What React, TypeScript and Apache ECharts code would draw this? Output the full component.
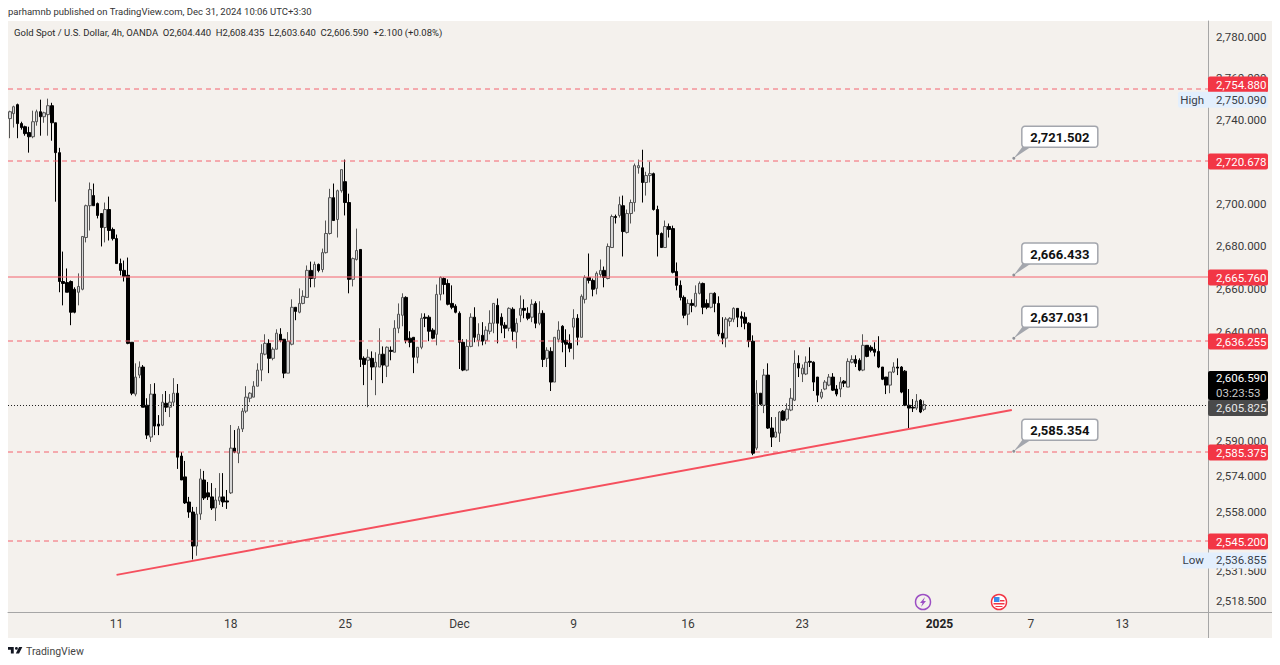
import React, { useEffect, useRef } from "react";
import * as echarts from "echarts";

const opens = [
  2740.5,2742.9,2747.2,2738.1,2736.6,2733.8,2731.8,2739.0,2743.8,2741.4,
  2742.4,2746.7,2738.5,2724.2,2663.4,2662.9,2663.4,2659.8,2658.4,2659.8,
  2684,2699.0,2703.8,2700.0,2695.3,2688.7,2697.2,2687.8,2683.5,2671.8,
  2668.6,2666.3,2635.2,2611.4,2620.1,2623.8,2606.3,2591.8,2611.4,2597.7,
  2597.2,2607.2,2605.4,2607.7,2611.8,2583.2,2573.8,2562.5,2558,2542.8,
  2557.1,2572.4,2566.6,2564.8,2559.8,2563,2564.8,2563,2566.6,2586.8,
  2584.5,2595.5,2603.6,2609.5,2610,2615,2622.4,2629.7,2634.7,2627.8,
  2632,2638.9,2636.6,2621,2634.3,2651.4,2649.1,2653.2,2656,2668.6,
  2664.8,2671.4,2669,2676.9,2685.9,2702.8,2692.5,2706.1,2710.4,2700.5,
  2664.4,2673.7,2678.4,2627.8,2626.9,2627.8,2623.8,2623.8,2629.7,2624.2,
  2631.5,2630.6,2641.7,2647.7,2656,2637.1,2637.5,2628.3,2632.9,2646.8,
  2646.8,2640.8,2638.9,2657.4,2664.8,2662.5,2653.2,2651.9,2648.6,2635.2,
  2622.4,2633.3,2646.8,2636.1,2638.4,2636.1,2640.3,2644,2652.3,2646.8,
  2643.1,2641.7,2650.5,2639.9,2647.7,2650.9,2648.6,2646.8,2653.2,2644,
  2648.6,2627.8,2631,2616.9,2636.6,2642.6,2636.1,2634.7,2642.2,2646.3,
  2637.5,2655.1,2665.3,2663.9,2660.2,2666.7,2668.6,2664.8,2679.3,2693.9,
  2694.4,2699,2686.4,2695.3,2700.5,2717,2717,2710,2713.3,2714.2,
  2697.2,2685.9,2679.3,2689.2,2688.2,2668.1,2661.6,2656,2648.2,2653.2,
  2651.9,2657.9,2662.5,2653.2,2651.4,2657.9,2653.2,2639.4,2637.1,2644.9,
  2645.9,2650.9,2647.2,2646.8,2644,2635.7,2586.8,2611.8,2606.3,2620.1,
  2595.9,2591.8,2593.6,2603.6,2600,2604.1,2608.6,2625.5,2620.6,2620.6,
  2626.4,2626,2619.2,2610,2613.7,2615.5,2619.2,2613.7,2613.7,2617.3,
  2614.6,2626,2627.3,2626.9,2622.4,2633.8,2632.9,2632,2631,2623.8,
  2619.2,2615.5,2621.5,2623.8,2623.8,2621.9,2606.3,2605.4,2605,2608.6,
  2604.44,
];
const closes = [
  2743.8,2746.2,2738.1,2736.2,2733.3,2731.8,2739.0,2743.8,2741.4,2743.3,
  2746.7,2738.5,2724.2,2663.4,2662.5,2658.4,2649.1,2649.1,2661.1,2684.5,
  2699.0,2706.6,2699.0,2694.4,2688.7,2697.2,2687.3,2683.5,2671.8,2668.6,
  2665.8,2634.7,2611.8,2619.2,2623.8,2605.4,2592.7,2611.4,2596.8,2596.8,
  2607.7,2605.4,2607.7,2611.8,2582.7,2572.4,2562.1,2558,2542.8,2557.1,
  2572.9,2564.3,2564.8,2559.8,2563.4,2564.8,2562.5,2562.5,2586.8,2585,
  2595.5,2603.6,2610,2611.8,2615,2622.4,2630.1,2634.7,2627.8,2632,
  2639.4,2636.1,2621,2635.7,2651.4,2649.5,2653.2,2656.5,2668.6,2664.8,
  2671.4,2668.6,2676.9,2685.9,2702.8,2692,2706.1,2716.1,2700.5,2664.4,
  2674.1,2677.9,2627.3,2625,2628.3,2623.8,2626,2629.7,2624.7,2632.9,
  2631,2641.7,2648.2,2656,2636.1,2635.2,2628.3,2632.9,2646.3,2646.3,
  2640.3,2637.1,2657.4,2665.3,2662,2652.8,2651.4,2649.1,2635.2,2622.4,
  2633.3,2646.8,2637.5,2638.9,2635.7,2640.8,2644,2653.2,2644,2643.1,
  2641.7,2650.9,2640.3,2644,2650.9,2650,2646.3,2652.8,2644,2648.6,
  2627.3,2631.5,2616.9,2637.5,2640.8,2635.2,2634.3,2632.4,2646.3,2637.5,
  2656.5,2665.3,2663.9,2659.8,2667.2,2668.6,2665.3,2679.8,2693.9,2693.4,
  2699.5,2686.8,2695.3,2700.5,2718,2718,2710,2713.3,2714.2,2697.2,
  2685.4,2679.3,2689.2,2687.8,2667.7,2661.6,2656,2647.7,2653.2,2652.3,
  2657.9,2662.5,2651.4,2651.4,2657.9,2653.2,2639,2637.1,2645.9,2646.3,
  2650.9,2646.8,2646.3,2644,2635.7,2584.5,2611.8,2606.8,2620.1,2595.9,
  2591.8,2594.1,2603.2,2599.5,2604.5,2609.5,2625.5,2623.3,2623.3,2626,
  2626,2616.9,2610.9,2612.3,2616.9,2619.2,2613.2,2611.4,2616.9,2616.4,
  2626.4,2627.3,2625.5,2622.4,2633.8,2628.7,2631.5,2630.6,2623.8,2618.2,
  2615.5,2621.5,2623.8,2623.3,2612.3,2606.3,2605,2605,2608.2,2603.2,
  2606.59,
];
const lows = [
  2731.1,2736.2,2731.1,2735.2,2732.3,2724.2,2731.1,2737.1,2732.3,2738.5,
  2732.3,2729.9,2700.9,2658.4,2652.3,2658.4,2643.1,2648.6,2652.3,2659.3,
  2681.7,2687.3,2699.0,2693,2679.8,2681.7,2682.6,2682.6,2671.8,2666.3,
  2663.4,2634.3,2610.9,2610.4,2618.7,2605.4,2590.9,2589.6,2592.7,2592.7,
  2596.8,2603.2,2600.9,2605.9,2577.4,2572.4,2561.6,2555.4,2536.855,2538.5,
  2554.5,2563.4,2563.4,2558.9,2554,2561.2,2560.3,2559.4,2566.1,2584.5,
  2580,2594.1,2602.7,2607.7,2610,2615,2617.3,2629.2,2621,2626.9,
  2632,2635.2,2618.7,2621,2633.8,2645.4,2648.6,2652.8,2656,2660.7,
  2660.7,2667.7,2667.7,2676.5,2685.4,2692,2684,2705.2,2694.4,2657.9,
  2661.1,2673.2,2623.8,2615.5,2605.4,2617.8,2610.9,2623.8,2616.4,2619.2,
  2626.9,2630.6,2639.4,2642.6,2634.7,2632.9,2621,2625.5,2632,2642.2,
  2635.7,2636.6,2633.8,2654.6,2657.4,2652.3,2650.5,2648.6,2622.9,2621.9,
  2621.9,2632.9,2635.2,2633.3,2633.8,2634.3,2638.9,2639.4,2634.7,2639.4,
  2637.1,2640.3,2636.1,2632.4,2644.5,2646.3,2645.4,2644.5,2641.7,2643.1,
  2623.8,2623.8,2612.8,2616.9,2635.2,2630.6,2623.8,2630.6,2627.3,2633.8,
  2637.5,2653.2,2662.5,2656.5,2657.4,2665.3,2660.7,2664.4,2679.3,2690.6,
  2693.4,2675.1,2685.9,2690.6,2696.2,2714.2,2700.5,2703.8,2710,2696.7,
  2675.1,2679.3,2679.3,2684,2667.2,2659.3,2654.6,2646.3,2643.1,2649.1,
  2651.4,2657.4,2648.2,2650.5,2650.9,2649.1,2638,2634.3,2632.9,2642.6,
  2644.5,2642.2,2642.2,2641.2,2632.9,2583.6,2585.9,2606.3,2602.7,2595.5,
  2587.3,2591.4,2589.6,2599.1,2599.1,2603.6,2608.2,2619.2,2616.9,2620.1,
  2623.8,2612.8,2607.7,2609.1,2613.2,2615,2612.8,2610.4,2610,2614.6,
  2614.6,2625.5,2623.8,2621.9,2621.9,2628.3,2630.6,2628.7,2623.3,2617.8,
  2611.4,2611.8,2621,2620.1,2611.8,2605.9,2595.9,2603.2,2604.1,2602.7,
  2603.64,
];
const highs = [
  2744.3,2746.7,2747.7,2739.0,2737.1,2736.6,2744.3,2744.8,2749.6,2743.8,
  2750.09,2748.1,2738.5,2726.5,2677.4,2669.5,2663.9,2660.7,2667.2,2684.5,
  2699.5,2710,2709.5,2700.5,2695.3,2700.5,2703.3,2688.7,2685.4,2674.1,
  2673.2,2674.6,2635.2,2625.5,2626.4,2624.7,2609.5,2616,2616.4,2601.8,
  2611.4,2612.8,2611.4,2618.7,2616,2585,2581,2564.8,2560.3,2560.3,
  2577.4,2576.5,2571.5,2571,2568.8,2575.5,2575.5,2567.9,2597.3,2595,
  2596.8,2605,2615,2612.3,2617.3,2625.5,2634.3,2638.9,2636.6,2632.9,
  2641.2,2641.7,2636.6,2639.9,2655.1,2651.4,2660.2,2659.3,2670.9,2672.7,
  2672.7,2671.8,2678.8,2692,2707,2709.5,2706.6,2716.1,2720.9,2704.7,
  2674.6,2688.2,2678.4,2628.7,2632,2631,2630.6,2641.7,2633.3,2633.3,
  2633.3,2645.4,2653.2,2657.9,2656.5,2640.3,2637.5,2632.9,2648.6,2648.6,
  2647.7,2641.7,2662,2665.8,2665.3,2664.4,2661.6,2652.8,2649.5,2636.6,
  2636.6,2648.6,2651.4,2644,2644.5,2642.6,2650,2653.2,2655.5,2648.6,
  2644.5,2651.4,2651.4,2646.3,2656.9,2655.1,2651.4,2655.1,2654.2,2654.2,
  2650,2632.9,2632.9,2637.5,2644.9,2643.1,2641.2,2638.9,2650.5,2648.2,
  2657.4,2666.3,2676.5,2664.8,2668.1,2673.7,2670.4,2681.2,2694.8,2694.8,
  2703.3,2703.8,2697.2,2701.9,2719,2720.9,2725.6,2715.1,2719.9,2714.7,
  2699,2686.4,2692,2690.6,2689.6,2672.3,2663.9,2656.9,2655.1,2655.1,
  2661.6,2663.4,2662.9,2655.1,2657.9,2658.4,2656.5,2646.8,2646.8,2646.8,
  2651.4,2650.9,2649.5,2649.1,2644.5,2638.4,2617.8,2611.8,2622.9,2625.5,
  2600.9,2600.9,2603.6,2604.1,2607.2,2614.1,2631.5,2629.2,2625,2628.7,
  2632.9,2626.4,2619.2,2613.7,2617.8,2620.6,2621,2615.5,2619.2,2617.8,
  2627.8,2629.2,2629.2,2627.8,2638.9,2633.8,2633.8,2635.2,2638,2623.8,
  2619.2,2621.5,2626,2627.8,2624.2,2622.4,2613.7,2609.1,2611.4,2609.1,
  2608.435,
];

const BAR_SLOTS = 315;
const dateTickIndex = [28, 58, 88, 118, 148, 178, 208, 244, 268, 292];
const dateTickLabel = ["11", "18", "25", "Dec", "9", "16", "23", "2025", "7", "13"];

const priceTicks = [2780, 2760, 2740, 2700, 2680, 2660, 2640, 2590, 2574, 2558, 2531.5, 2518.5];
const levelValues = [2754.88, 2720.678, 2665.76, 2636.255, 2585.375, 2545.2];
const levelSolid = [false, false, true, false, false, false];
const calloutValues = [2721.502, 2666.433, 2637.031, 2585.354];
const highValue = 2750.09;
const lowValue = 2536.855;
const lastClose = 2606.59;
const lastBidValue = 2605.825;
const countdown = "03:23:53";
const trendIndex = [28, 263];
const trendValue = [2530.0, 2604.1];
const calloutIndex = 263;

const fmt = (v: number) =>
  v.toLocaleString("en-US", { minimumFractionDigits: 3, maximumFractionDigits: 3 });

const FONT = "Roboto, sans-serif";
const RED = "#f23645";
const PANEL = "#f4f1ed";
const AXIS = "#a6a6a6";
const TAG_L = 1208;
const TAG_W = 60;

function tag(center: number, h: number, fill: string, lines: { t: string; c: string }[]) {
  const top = center - h / 2;
  const kids: any[] = [
    { type: "rect", shape: { x: TAG_L, y: top, width: TAG_W, height: h, r: 2 }, style: { fill } },
  ];
  lines.forEach((l, i) => {
    kids.push({
      type: "text",
      style: {
        x: TAG_L + 8,
        y: top + (h * (i + 0.5)) / lines.length,
        text: l.t,
        fill: l.c,
        font: `11.5px ${FONT}`,
        align: "left",
        verticalAlign: "middle",
      },
    });
  });
  return kids;
}

const levelTagShift = [-5, 0, 0, 0, 0, 0];

function renderLevel(params: any, api: any) {
  const i = params.dataIndex;
  const raw = api.coord([0, api.value(1)])[1] + 0.7;
  // A whole-number row blends over two pixels, which gives the soft pink of the reference.
  const y = Math.round(raw);
  const cs = params.coordSys;
  const lineStyle: any = { stroke: "#f4636f", fill: "none", lineWidth: 1 };
  if (!levelSolid[i]) lineStyle.lineDash = [5, 4];
  return {
    type: "group",
    children: [
      {
        type: "line",
        shape: { x1: cs.x, y1: y, x2: cs.x + cs.width, y2: y },
        style: lineStyle,
      },
      ...tag(y + 0.5 + levelTagShift[i], 16, RED, [{ t: fmt(levelValues[i]), c: "#ffffff" }]),
    ],
  };
}

function renderExtreme(params: any, api: any) {
  const isHigh = params.dataIndex === 0;
  const y = api.coord([0, api.value(1)])[1] + 1;
  const word = isHigh ? "High" : "Low";
  const left = isHigh ? 1178 : 1182;
  return {
    type: "group",
    children: [
      {
        type: "rect",
        shape: { x: left, y: y - 8, width: TAG_L + TAG_W - left, height: 16, r: 2 },
        style: { fill: "#e3effd" },
      },
      {
        type: "text",
        style: { x: 1204, y, text: word, fill: "#3a3f4a", font: `11.5px ${FONT}`, align: "right", verticalAlign: "middle" },
      },
      {
        type: "text",
        style: { x: TAG_L + 8, y, text: fmt(api.value(1)), fill: "#3a3f4a", font: `11.5px ${FONT}`, align: "left", verticalAlign: "middle" },
      },
    ],
  };
}

function renderLast(params: any, api: any) {
  const y = Math.round(api.coord([0, lastClose])[1]) + 0.5;
  const cs = params.coordSys;
  return {
    type: "group",
    children: [
      {
        type: "line",
        shape: { x1: cs.x, y1: y, x2: cs.x + cs.width, y2: y },
        style: { stroke: "#222222", lineWidth: 1, lineDash: [1, 2] },
      },
      ...tag(385.5, 29, "#000000", [
        { t: fmt(lastClose), c: "#ffffff" },
        { t: countdown, c: "#c8c8c8" },
      ]),
      ...tag(408, 16, "#4a4a4a", [{ t: fmt(lastBidValue), c: "#e8e8e8" }]),
    ],
  };
}

function renderCallout(params: any, api: any) {
  const p = api.coord([api.value(0), api.value(1)]);
  const ax = p[0] + 2;
  const ay = p[1];
  const bx = ax + 8;
  const by = ay - 32;
  return {
    type: "group",
    children: [
      {
        type: "polygon",
        shape: { points: [[ax, ay], [ax + 9, ay - 12], [ax + 18, ay - 12]] },
        style: { fill: "#a3a6ad" },
      },
      { type: "circle", shape: { cx: ax, cy: ay, r: 1.5 }, style: { fill: "#8d9097" } },
      {
        type: "rect",
        shape: { x: bx, y: by, width: 76, height: 21, r: 3 },
        style: { fill: "#ffffff", stroke: "#a3a6ad", lineWidth: 1.5 },
      },
      {
        type: "text",
        style: {
          x: bx + 38,
          y: by + 11,
          text: fmt(api.value(1)),
          fill: "#111111",
          font: `bold 13px ${FONT}`,
          align: "center",
          verticalAlign: "middle",
        },
      },
    ],
  };
}

function buildOption() {
  const categories = Array.from({ length: BAR_SLOTS }, (_, i) => {
    const k = dateTickIndex.indexOf(i);
    return k >= 0 ? dateTickLabel[k] : "";
  });
  const ohlc = opens.map((o, i) => [o, closes[i], lows[i], highs[i]]);

  return {
    animation: false,
    backgroundColor: "#ffffff",
    textStyle: { fontFamily: FONT },
    grid: { left: 8, right: 72, top: 21, bottom: 53 },
    xAxis: {
      type: "category",
      data: categories,
      boundaryGap: true,
      axisTick: { show: false },
      axisLine: { show: true, lineStyle: { color: AXIS, width: 1 } },
      splitLine: { show: false },
      axisLabel: {
        interval: 0,
        margin: 6,
        color: "#3a3a3a",
        fontSize: 12,
        fontFamily: FONT,
        formatter: (v: string) => (v === "2025" ? `{b|${v}}` : v),
        rich: { b: { fontWeight: "bold", fontSize: 12, color: "#222222", fontFamily: FONT } },
      },
    },
    yAxis: {
      type: "log",
      logBase: 10,
      position: "right",
      min: 2513.6,
      max: 2787.75,
      splitLine: { show: false },
      minorTick: { show: false },
      axisTick: { show: false },
      axisLine: { show: true, lineStyle: { color: AXIS, width: 1 } },
      axisLabel: {
        customValues: priceTicks,
        margin: 8,
        color: "#3a3a3a",
        fontSize: 11.5,
        fontFamily: FONT,
        formatter: (v: number) => fmt(v),
      },
    },
    series: [
      {
        type: "candlestick",
        name: "XAUUSD",
        data: ohlc,
        barWidth: 3,
        z: 3,
        itemStyle: {
          color: "#d6d6d6",
          color0: "#000000",
          borderColor: "#555555",
          borderColor0: "#000000",
          borderWidth: 1,
        },
      },
      {
        type: "line",
        name: "trend",
        data: trendIndex.map((x, i) => [x, trendValue[i]]),
        showSymbol: false,
        symbol: "none",
        z: 4,
        clip: false,
        lineStyle: { color: "#f5505e", width: 2 },
      },
      {
        type: "custom",
        name: "levels",
        z: 5,
        data: levelValues.map((v) => [0, v]),
        renderItem: renderLevel,
        encode: { x: 0, y: 1 },
      },
      {
        type: "custom",
        name: "extremes",
        z: 5,
        data: [[0, highValue], [0, lowValue]],
        renderItem: renderExtreme,
        encode: { x: 0, y: 1 },
      },
      {
        type: "custom",
        name: "last",
        z: 5,
        data: [[0, lastClose]],
        renderItem: renderLast,
        encode: { x: 0, y: 1 },
      },
      {
        type: "custom",
        name: "callouts",
        z: 6,
        data: calloutValues.map((v) => [calloutIndex, v]),
        renderItem: renderCallout,
        encode: { x: 0, y: 1 },
      },
    ],
    graphic: [
      {
        type: "rect",
        z: -10,
        silent: true,
        shape: { x: 8, y: 21, width: 1264, height: 617 },
        style: { fill: PANEL },
      },
      {
        type: "line",
        z: 1,
        shape: { x1: 1208.5, y1: 612, x2: 1208.5, y2: 638 },
        style: { stroke: AXIS, lineWidth: 1 },
      },
      {
        type: "line",
        z: 1,
        shape: { x1: 1208, y1: 612.5, x2: 1272, y2: 612.5 },
        style: { stroke: AXIS, lineWidth: 1 },
      },
      {
        type: "text",
        x: 8,
        y: 11,
        style: {
          text: "parhamnb published on TradingView.com, Dec 31, 2024 10:06 UTC+3:30",
          fill: "#333333",
          font: `9.5px ${FONT}`,
          verticalAlign: "middle",
        },
      },
      {
        type: "text",
        x: 14,
        y: 32,
        z: 10,
        style: {
          text: "Gold Spot / U.S. Dollar, 4h, OANDA  O2,604.440  H2,608.435  L2,603.640  C2,606.590  +2.100 (+0.08%)",
          fill: "#2a2a2a",
          font: `9.5px ${FONT}`,
          verticalAlign: "middle",
        },
      },
      { type: "tvlogo", x: 8, y: 644.5, scaleX: 0.41, scaleY: 0.41, style: { fill: "#131722" } },
      {
        type: "text",
        x: 26,
        y: 651,
        style: { text: "TradingView", fill: "#444444", font: `10.5px ${FONT}`, verticalAlign: "middle" },
      },
      {
        type: "group",
        x: 923,
        y: 602,
        z: 8,
        children: [
          { type: "circle", shape: { cx: 0, cy: 0, r: 7.5 }, style: { fill: PANEL, stroke: "#9c4fc4", lineWidth: 1.5 } },
          {
            type: "polygon",
            shape: { points: [[2, -5], [-3, 1], [-0.5, 1], [-2, 5], [3, -1], [0.5, -1]] },
            style: { fill: "#9c4fc4" },
          },
        ],
      },
      {
        type: "group",
        x: 999,
        y: 602,
        z: 8,
        children: [
          { type: "circle", shape: { cx: 0, cy: 0, r: 7.5 }, style: { fill: "#ffffff", stroke: RED, lineWidth: 1.5 } },
          { type: "rect", shape: { x: -5, y: -5, width: 5.5, height: 5 }, style: { fill: "#3d8be8" } },
          { type: "rect", shape: { x: 1, y: -2, width: 4.5, height: 1.5 }, style: { fill: RED } },
          { type: "rect", shape: { x: -5.5, y: 1, width: 11, height: 1.5 }, style: { fill: RED } },
          { type: "rect", shape: { x: -3.5, y: 4, width: 7, height: 1 }, style: { fill: RED } },
        ],
      },
    ],
  };
}

echarts.graphic.registerShape(
  "tvlogo",
  echarts.graphic.extendPath(
    "M14 6H0v7h7v9h7V6zM35 6h-8l-8 16h8l8-16zM24 9.5a3.5 3.5 0 1 1-7 0 3.5 3.5 0 0 1 7 0z",
    {}
  )
);

export default function App() {
  const ref = useRef<HTMLDivElement>(null);
  useEffect(() => {
    const chart = echarts.init(ref.current!, null, { renderer: "svg" });
    chart.setOption(buildOption() as any);
    return () => chart.dispose();
  }, []);
  return (
    <div
      ref={ref}
      style={{ position: "absolute", left: 0, top: 0, width: 1280, height: 665 }}
    />
  );
}
